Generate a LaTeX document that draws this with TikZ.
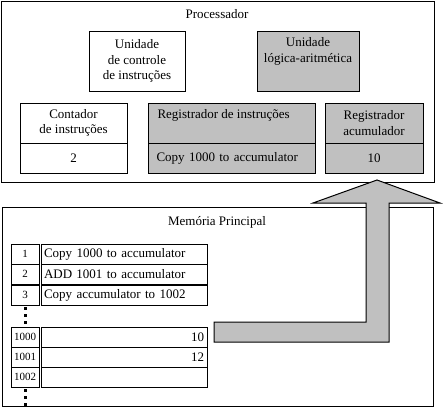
\documentclass[tikz,border=0pt]{standalone}
\usepackage{fontspec}
\setmainfont{Liberation Serif}
\usepackage{xcolor}
\usetikzlibrary{positioning}
\definecolor{cellgray}{HTML}{C0C0C0}

\begin{document}
\begin{tikzpicture}[x=1pt, y=-1pt, font=\fontsize{13}{15.5}\selectfont,
  frame/.style={draw, line width=1pt, inner sep=0pt},
  unitbox/.style={draw, line width=1pt, fill=#1, inner sep=0pt, outer sep=0pt, align=center},
  unitbox/.default=white,
  idx/.style={draw, line width=1pt, minimum width=28pt, minimum height=20pt, inner sep=0pt, outer sep=0pt, font=\fontsize{11}{12}\selectfont},
  cell/.style={draw, line width=1pt, minimum height=20pt, text width=160pt, inner xsep=3pt, inner ysep=0pt, outer sep=0pt, align=#1},
  cell/.default=left,
  dots/.style={line width=3pt, dash pattern=on 3pt off 4pt},
  bigarrow/.style={draw, line width=1pt, fill=cellgray}]
\useasboundingbox (0,0) rectangle (444,408);
% processor
\node[frame, minimum width=433pt, minimum height=181pt, anchor=north west] (proc) at (1,1) {};
\node (proctitle) at (217,14) {Processador};
\node[unitbox, minimum width=96pt, minimum height=60pt] (ctrl) at (137,61) {Unidade\\de controle\\de instruções};
\node[unitbox=cellgray, minimum width=102pt, minimum height=60pt] (alu) at (308,61) {};
\node[below=3pt of alu.north, align=center] (alutext) {Unidade\\lógica-aritmética};
\node[unitbox, minimum width=107pt, minimum height=40pt] (pc) at (73.5,123) {Contador\\de instruções};
\node[unitbox, minimum width=107pt, minimum height=30pt, below=0pt of pc] (pcval) {2};
\node[unitbox=cellgray, minimum width=167pt, minimum height=40pt] (ir) at (231.5,123) {};
\node[below right=3pt and 6pt of ir.north west] (irtext) {Registrador de instruções};
\node[unitbox=cellgray, minimum width=167pt, minimum height=30pt, text width=150pt, align=left, below=0pt of ir] (irval) {Copy 1000 to accumulator};
\node[unitbox=cellgray, minimum width=98pt, minimum height=40pt] (acc) at (374,123) {Registrador\\acumulador};
\node[unitbox=cellgray, minimum width=98pt, minimum height=30pt, below=0pt of acc] (accval) {10};
% main memory
\node[frame, minimum width=431pt, minimum height=199pt, anchor=north west] (mem) at (2,207) {};
\node (memtitle) at (217,222) {Memória Principal};
\node[idx] (i1) at (25,254) {1};
\node[cell, right=2pt of i1] (c1) {Copy 1000 to accumulator};
\node[idx, below=0pt of i1] (i2) {2};
\node[cell, right=2pt of i2] (c2) {ADD 1001 to accumulator};
\node[idx, below=1pt of i2] (i3) {3};
\node[cell, right=2pt of i3] (c3) {Copy accumulator to 1002};
\node[idx] (i1000) at (25,337) {1000};
\node[cell=right, right=2pt of i1000] (c1000) {10};
\node[idx, below=0pt of i1000] (i1001) {1001};
\node[cell=right, right=2pt of i1001] (c1001) {12};
\node[idx, below=0pt of i1001] (i1002) {1002};
\node[cell, right=2pt of i1002] (c1002) {};
\draw[dots] ([yshift=-2pt]i3.south) -- ([yshift=2pt]i1000.north);
\draw[dots] ([yshift=-2pt]i1002.south) -- ++(0,17);
% transfer to accumulator
\draw[bigarrow] (214,322) -- (366,322) -- (366,203) -- (313,203) -- (377,180) -- (440,203) -- (389,203) -- (389,342) -- (214,342) -- cycle;
\end{tikzpicture}
\end{document}
